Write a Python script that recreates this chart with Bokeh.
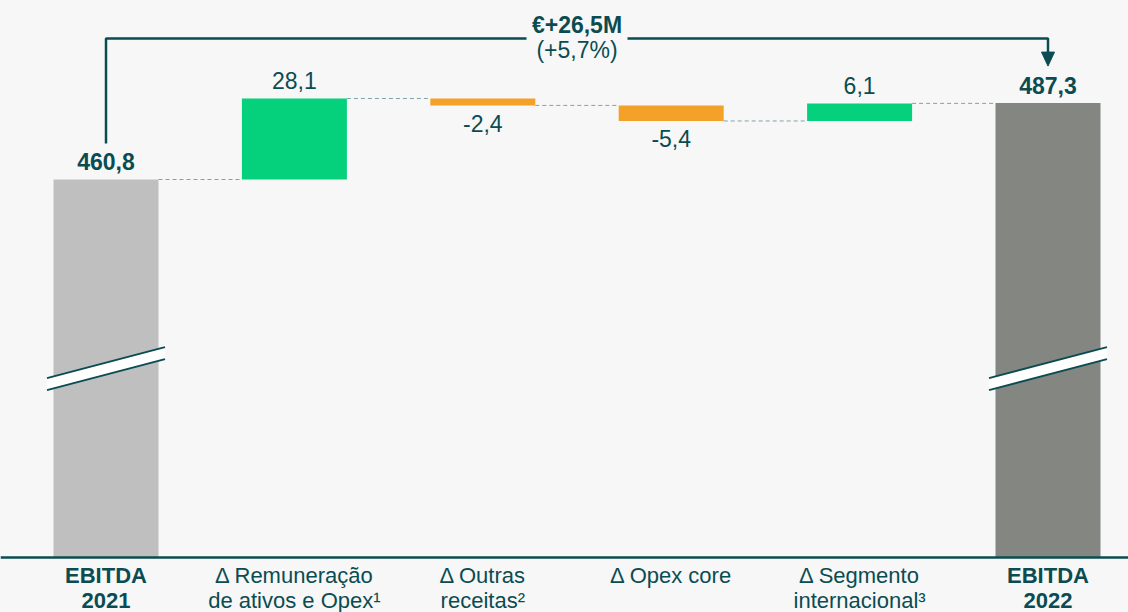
from bokeh.plotting import figure
from bokeh.models import Range1d, Span
from bokeh.core.properties import value
from bokeh.embed import file_html
from bokeh.resources import INLINE

# ---------------- data ----------------
categories_line1 = ["EBITDA", "Δ Remuneração", "Δ Outras", "Δ Opex core", "Δ Segmento", "EBITDA"]
categories_line2 = ["2021", "de ativos e Opex¹", "receitas²", "", "internacional³", "2022"]
is_total = [True, False, False, False, False, True]
start_value = 460.8
deltas = [28.1, -2.4, -5.4, 6.1]
end_value = 487.3
delta_label = "€+26,5M"
pct_label = "(+5,7%)"
axis_start = 329.7   # truncated (broken) axis start
break_value = 395.2  # where the axis-break mark sits

# ---------------- styling ----------------
BG = "#f7f7f7"
TXT = "#0a4c52"
C_START = "#bfbfbf"
C_END = "#838681"
C_POS = "#05d07c"
C_NEG = "#f4a12a"
CONN = "#7fa3a8"
FONT = value("Liberation Sans")
SHIFT = -9  # baseline correction for text rendering

W, H = 1128, 612
PX_X = 188.4          # px per category
PX_Y = 2.883          # px per unit
x0 = -105.5 / PX_X
y_end = start_value + 179 / PX_Y
y_start = y_end - H / PX_Y
BW = 105 / PX_X

def fmt(v):
    return f"{v:.1f}".replace(".", ",")

# waterfall computation
bottoms, tops, colors, labels = [], [], [], []
bottoms.append(axis_start); tops.append(start_value); colors.append(C_START); labels.append(fmt(start_value))
run = start_value
levels = [start_value]
for d in deltas:
    b, t = run, run + d
    bottoms.append(min(b, t)); tops.append(max(b, t))
    colors.append(C_POS if d >= 0 else C_NEG)
    labels.append(fmt(d))
    run += d
    levels.append(run)
bottoms.append(axis_start); tops.append(end_value); colors.append(C_END); labels.append(fmt(end_value))
xs = list(range(len(bottoms)))

p = figure(width=W, height=H, x_range=Range1d(x0, x0 + W / PX_X),
           y_range=Range1d(y_start, y_end), x_axis_type=None, y_axis_type=None,
           toolbar_location=None, output_backend="svg", min_border=0)
p.background_fill_color = BG
p.border_fill_color = BG
p.outline_line_color = None
p.grid.visible = False

# connectors
cx0 = [i + BW / 2 for i in range(len(levels))]
cx1 = [i + 1 - BW / 2 for i in range(len(levels))]
p.segment(x0=cx0, y0=levels, x1=cx1, y1=levels, line_color=CONN, line_width=1, line_dash="4 3")

# bars
p.vbar(x=xs, bottom=bottoms, top=tops, width=BW, fill_color=colors, line_color=None)

# axis line
p.add_layout(Span(location=axis_start, dimension="width", line_color=TXT, line_width=2.5))

# break marks on totals
half = 59 / PX_X
rise = 31 / PX_Y
gap = 6 / PX_Y
bx, by, lx, ly = [], [], [], []
for i, tot in zip(xs, is_total):
    if not tot:
        continue
    xl, xr = i - half, i + half
    yl, yr = break_value - rise / 2, break_value + rise / 2
    bx.append([xl, xr, xr, xl]); by.append([yl + gap, yr + gap, yr - gap, yl - gap])
    lx += [[xl, xr], [xl, xr]]; ly += [[yl + gap, yr + gap], [yl - gap, yr - gap]]
p.patches(bx, by, fill_color="white", line_color=None)
p.multi_line(lx, ly, line_color=TXT, line_width=2)

# value labels
for i in xs:
    neg = (not is_total[i]) and deltas[i - 1] < 0
    y = bottoms[i] if neg else tops[i]
    p.text(x=[i], y=[y], text=[labels[i]], text_align="center", text_baseline="alphabetic",
           y_offset=(27 if neg else -9) + SHIFT, text_font=FONT, text_font_size="23px",
           text_font_style="bold" if is_total[i] else "normal", text_color=TXT)

# category labels
for i in xs:
    st = "bold" if is_total[i] else "normal"
    for txt, off in ((categories_line1[i], 27), (categories_line2[i], 52)):
        if txt:
            p.text(x=[i], y=[axis_start], text=[txt], text_align="center", text_baseline="alphabetic",
                   y_offset=off + SHIFT, text_font=FONT, text_font_size="22px",
                   text_font_style=st, text_color=TXT)

# top annotation bracket
y_line = y_end - 38 / PX_Y
first, last = xs[0], xs[-1]
mid = (first + last) / 2
tgap = 50.5 / PX_X
left_bottom = tops[0] + 36 / PX_Y
arrow_tip = tops[-1] + 37 / PX_Y
arrow_top = arrow_tip + 14 / PX_Y
aw = 6.5 / PX_X
p.line([first, first, mid - tgap], [left_bottom, y_line, y_line], line_color=TXT, line_width=2.5)
p.line([mid + tgap, last, last], [y_line, y_line, arrow_top], line_color=TXT, line_width=2.5)
p.patch([last - aw, last + aw, last], [arrow_top, arrow_top, arrow_tip], fill_color=TXT, line_color=TXT)
p.text(x=[mid], y=[y_end], text=[delta_label], text_align="center", text_baseline="alphabetic",
       y_offset=33 + SHIFT,
       text_font=FONT, text_font_size="23px", text_font_style="bold", text_color=TXT)
p.text(x=[mid], y=[y_end], text=[pct_label], text_align="center", text_baseline="alphabetic",
       y_offset=58 + SHIFT,
       text_font=FONT, text_font_size="23px", text_color=TXT)

html = file_html(p, INLINE)
html = html.replace("<head>", "<head><style>html,body{background:#f7f7f7;}</style>", 1)
open("out.html", "w").write(html)
